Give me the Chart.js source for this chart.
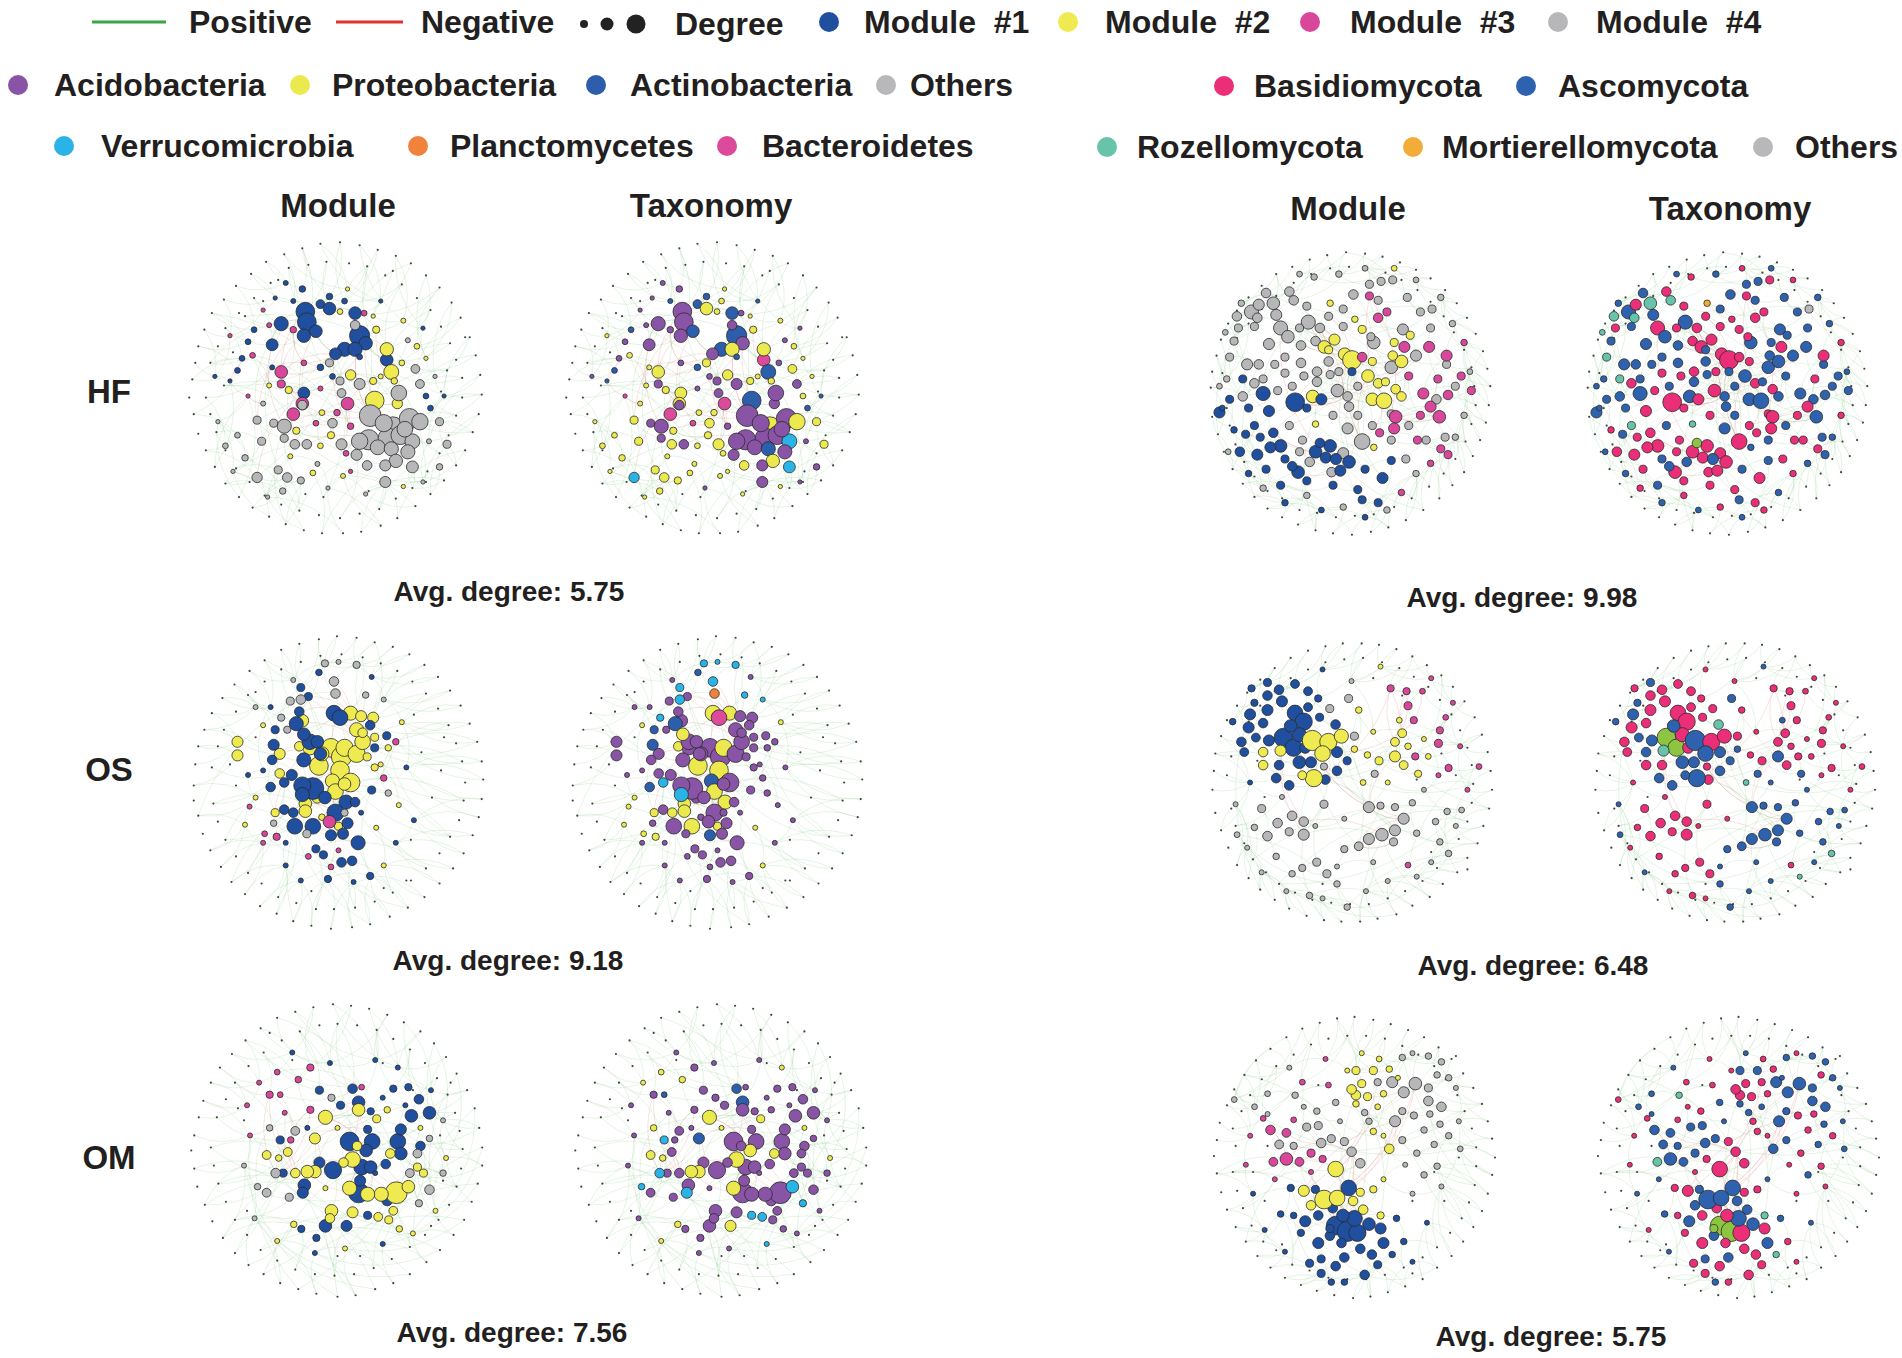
<!DOCTYPE html>
<html>
<head>
<meta charset="utf-8">
<script src="https://cdn.jsdelivr.net/npm/chart.js@4.4.0/dist/chart.umd.min.js"></script>
<style>
  body { margin: 0; background: #fff; font-family: "Liberation Sans", Arial, sans-serif; color: #231f20; }
  #page { position: relative; width: 1902px; height: 1358px; overflow: hidden; }
  .t { position: absolute; font-weight: bold; font-size: 32px; line-height: 1; white-space: pre; transform: translateY(-50%); }
  .c { transform: translate(-50%, -50%); }
  .dot { position: absolute; border-radius: 50%; transform: translate(-50%, -50%); }
  .ln { position: absolute; height: 3px; transform: translateY(-50%); }
  canvas { position: absolute; }
</style>
</head>
<body>
<div id="page"></div>
<script>
// ---- categories / labels ----
const sites = ['HF', 'OS', 'OM'];
const views = ['Module', 'Taxonomy'];
const moduleNames = ['Module  #1', 'Module  #2', 'Module  #3', 'Module  #4'];
const bacPhyla = ['Acidobacteria', 'Proteobacteria', 'Actinobacteria', 'Others', 'Verrucomicrobia', 'Planctomycetes', 'Bacteroidetes'];
const bacCodes = ['Ac', 'Pr', 'At', 'Ot', 'Ve', 'Pl', 'Ba'];
const fungPhyla = ['Basidiomycota', 'Ascomycota', 'Rozellomycota', 'Mortierellomycota', 'Others'];
const fungCodes = ['Bs', 'As', 'Rz', 'Mo', 'Ot'];
const bacAvgDegree = ['5.75', '9.18', '7.56'];
const fungAvgDegree = ['9.98', '6.48', '5.75'];

// ---- networks: nodes [x, y, degree, module, phylum] in layout units (circle radius 100) ----
const bacHF = [
  [-20,-51,22,1,'Ac'],[-19,-44,22,1,'Ac'],[-36,-43,16,1,'Ac'],[-21,-35,15,1,'Ac'],[-13,-38,14,1,'At'],[-10,-56,9,1,'At'],[-4,-53,14,1,'Pr'],[13,-50,14,1,'At'],[16,-35,24,1,'At'],[20,-30,15,1,'Ac'],
  [6,-26,16,1,'At'],[13,-26,16,1,'Pr'],[0,-23,13,1,'Ac'],[-42,-29,13,1,'Ac'],[34,-19,14,1,'Ba'],[-21,3,13,1,'Pr'],[-22,-66,6,1,'Ac'],[-4,-61,6,1,'At'],[6,-58,5,1,'Pr'],[-54,-39,5,1,'At'],
  [-62,-20,5,1,'Ac'],[-10,-14,6,1,'At'],[-2,-8,5,1,'Ac'],[63,13,5,1,'At'],[60,5,5,1,'Pr'],[-65,-12,5,1,'At'],[-58,-31,5,1,'Ac'],[-42,-14,4,1,'Pr'],[16,-21,5,1,'At'],[-33,-70,4,1,'Ac'],
  [37,-11,17,2,'At'],[26,8,22,2,'At'],[34,-26,15,2,'Pr'],[27,-39,7,2,'Pr'],[41,10,11,2,'Ac'],[10,-9,11,2,'Pr'],[25,-5,7,2,'Pr'],[-26,28,7,2,'Pr'],[-3,31,7,2,'Pr'],[-31,1,7,2,'Pr'],
  [-9,16,5,2,'Pr'],[39,-5,6,2,'Pr'],[44,-17,5,2,'Ac'],[54,-28,5,2,'Pr'],[-15,56,5,2,'Pr'],[3,-51,5,2,'Pr'],[-10,38,5,2,'Pr'],
  [-36,-11,14,3,'Pr'],[-22,10,14,3,'Pr'],[-28,17,14,3,'Ba'],[8,10,14,3,'Ba'],[10,25,6,3,'Ac'],[-36,-3,8,3,'Ac'],[-28,-39,6,3,'Ac'],[-21,-17,5,3,'Ac'],[-13,23,5,3,'Ba'],[1,16,6,3,'Pr'],
  [-55,-22,5,3,'Pr'],[7,43,5,3,'Pr'],[19,-50,5,3,'Ac'],[-44,-42,4,3,'Ac'],
  [23,18,26,4,'Ac'],[38,26,26,4,'Pr'],[49,20,24,4,'Ac'],[56,22,19,4,'Pr'],[22,34,24,4,'Ac'],[35,33,24,4,'Ac'],[43,31,22,4,'Ac'],[42,3,18,4,'Ac'],[16,35,19,4,'Ac'],[-34,25,16,4,'Ac'],
  [32,23,20,4,'Ac'],[51,35,17,4,'Ve'],[46,27,18,4,'Ac'],[28,39,17,4,'Ac'],[37,40,16,4,'At'],[48,42,16,4,'Ac'],[40,48,15,4,'Pr'],[51,52,13,4,'Ve'],[33,51,12,4,'Ac'],[14,44,12,4,'Ac'],
  [33,62,12,4,'Ac'],[21,51,10,4,'Pr'],[4,37,12,4,'Pr'],[-2,23,10,4,'Pr'],[-22,11,10,4,'Ac'],[16,-3,12,4,'Ac'],[56,-3,9,4,'Ac'],[53,-13,9,4,'Pr'],[69,22,8,4,'Pr'],[74,37,8,4,'Pr'],
  [69,52,6,4,'Ac'],[-52,59,11,4,'Ve'],[-32,59,10,4,'Pr'],[-38,54,8,4,'Pr'],[-27,37,10,4,'Pr'],[-19,37,10,4,'Ac'],[-41,23,8,4,'Ac'],[-49,35,8,4,'Pr'],[-52,21,8,4,'Pr'],[-34,33,8,4,'Ac'],
  [3,-5,8,4,'Ac'],[-4,-17,8,4,'Pr'],[13,-42,10,4,'Ac'],[4,3,9,4,'Ac'],[-23,61,7,4,'Pr'],[-35,68,6,4,'Pr'],[-60,46,6,4,'Pr'],[-65,31,5,4,'Pr'],[-73,38,5,4,'Pr']
];
const bacHFMinor = [
  [-70,-5,3,1,'At'],[-48,-52,3,3,'Ac'],[-28,-58,4,1,'At'],[8,-66,3,2,'Pr'],[30,-58,3,1,'At'],[45,-45,4,2,'Pr'],[58,-40,3,1,'Ac'],[66,-8,3,4,'Pr'],[62,35,4,4,'Ac'],[58,62,3,4,'Ac'],
  [45,65,3,2,'Pr'],[20,70,3,4,'Pr'],[5,58,4,2,'Pr'],[-5,66,3,4,'Ac'],[-45,72,3,4,'Pr'],[-68,55,3,4,'Pr'],[-78,22,3,4,'Pr'],[-80,-8,3,1,'Ac'],[-70,-35,3,3,'Pr'],[-44,-2,4,2,'Pr'],
  [-10,0,4,3,'Ac'],[30,-8,4,2,'Pr'],[-12,50,4,4,'Pr'],[-48,10,4,4,'Pr'],[25,-48,3,2,'Pr'],[-40,-60,3,1,'Ac'],[48,-32,4,4,'Ac'],[60,-20,3,2,'Pr'],[-30,45,4,2,'Pr'],[10,55,3,3,'Pr'],
  [-58,5,3,3,'Ba'],[72,5,3,1,'At']
];
const bacOS = [
  [-5,-23,22,2,'Ac'],[2,-17,24,2,'Ac'],[4,-23,20,2,'Pr'],[12,-19,20,2,'Ac'],[-13,-11,22,2,'Pr'],[1,-8,22,2,'Pr'],[8,0,22,2,'Ac'],[-4,-1,16,2,'At'],[-11,-19,16,2,'Ac'],[-19,-23,16,2,'Ac'],
  [16,-27,18,2,'Ac'],[12,-35,16,2,'Ac'],[8,-46,16,2,'Pr'],[15,-44,12,2,'Ac'],[23,-43,12,2,'Ac'],[-24,-41,14,2,'Ac'],[-26,-24,10,2,'Pr'],[-39,-19,12,2,'Ac'],[-39,-6,10,2,'Ac'],[-22,14,14,2,'Pr'],
  [-22,19,14,2,'Pr'],[-14,10,12,2,'Ac'],[-2,6,18,2,'Pr'],[4,1,14,2,'Ac'],[-67,-27,12,2,'Ac'],[-67,-18,12,2,'Ac'],[-42,20,8,2,'Pr'],[0,29,8,2,'Pr'],[-11,23,6,2,'Ac'],[16,-33,10,2,'Ac'],
  [24,-30,8,2,'Ac'],[33,-23,6,2,'Ac'],[19,-17,8,2,'Ac'],[24,-10,7,2,'Ac'],
  [-19,-27,18,1,'Ac'],[-14,-27,14,1,'Ac'],[-3,-46,18,1,'Pr'],[1,-43,18,1,'Ba'],[-28,-39,16,1,'At'],[-23,-32,14,1,'Pr'],[-12,-19,14,1,'Ac'],[-23,-15,16,1,'Ac'],[-17,4,26,1,'Ac'],[-24,2,20,1,'Ac'],
  [-24,8,16,1,'Ve'],[-9,10,14,1,'Ac'],[5,13,16,1,'Pr'],[11,13,10,1,'Ac'],[-2,20,20,1,'Ac'],[6,27,12,1,'Ac'],[-29,29,18,1,'Ac'],[-17,29,18,1,'Pr'],[-5,35,12,1,'At'],[3,34,12,1,'Ac'],
  [13,40,16,1,'Ac'],[-15,44,8,1,'Ac'],[-10,48,8,1,'Ac'],[2,53,10,1,'Ac'],[9,52,10,1,'Ac'],[-26,-47,10,1,'Ac'],[-20,-57,8,1,'Ac'],[-43,-25,12,1,'At'],[-44,-15,10,1,'Ac'],[-31,-5,12,1,'Ac'],
  [-36,0,10,1,'Ve'],[-45,3,10,1,'At'],[-36,18,10,1,'Ac'],[-30,20,10,1,'Pr'],[21,-38,10,1,'Ac'],[32,-31,8,1,'Ac'],[24,-23,8,1,'Ac'],[22,5,8,1,'Ac'],[21,62,7,1,'Ac'],[-7,64,7,1,'Ac'],
  [-42,-35,8,1,'At'],[-25,-63,8,1,'Ve'],[-13,-73,6,1,'At'],
  [-9,-79,7,4,'Ve'],[12,-78,7,4,'Ve'],[-3,-67,10,4,'Ve'],[-2,-59,10,4,'Pl'],[-25,-55,10,4,'Ve'],[-32,-54,8,4,'Ac'],[-38,-43,7,4,'Ve'],[-34,-35,7,4,'Ac'],[18,-58,6,4,'Ve'],[33,7,6,4,'Ac'],
  [-43,27,6,4,'Ac'],[-21,34,8,4,'Ac'],[4,20,7,4,'Ac'],
  [-6,26,14,3,'Ac'],[38,-27,6,3,'Ac'],[30,-3,6,3,'Ac'],[-41,36,7,3,'Pr'],[-49,34,5,3,'Pr'],[-20,49,5,3,'Ac'],[-5,56,5,3,'Ac'],[-59,16,4,3,'Pr']
];
const bacOSMinor = [
  [-55,-50,4,4,'Ac'],[-60,-5,4,1,'Ac'],[-55,10,4,2,'Pr'],[-50,40,4,3,'Ac'],[-35,55,4,1,'Ac'],[-25,65,4,1,'Ac'],[10,66,4,1,'Ac'],[30,55,4,2,'Pr'],[38,40,4,1,'Ac'],[40,15,4,2,'Ac'],
  [45,-10,4,1,'Ac'],[42,-40,4,2,'Pr'],[30,-55,4,4,'Ve'],[-45,-50,4,1,'Ac'],[-50,-38,4,2,'Pr'],[-30,-68,4,4,'Ac'],[0,-80,4,4,'Ve'],[22,-70,4,1,'Ac'],[-62,28,4,2,'Pr'],[50,25,4,1,'Ac'],
  [28,-12,4,2,'Ac'],[-50,-8,4,1,'Ac'],[15,20,4,1,'Ac'],[-35,40,4,1,'Ac'],[0,45,4,3,'Ac'],[25,30,4,2,'Pr']
];
const bacOM = [
  [8,-6,22,1,'Ac'],[23,-6,18,1,'Ac'],[40,-6,18,1,'Ac'],[42,2,14,1,'Ac'],[19,0,14,1,'Pr'],[16,11,18,1,'Ac'],[22,11,14,1,'Ac'],[-3,13,20,1,'Ac'],[-12,8,12,1,'Ac'],[14,28,24,1,'Ac'],
  [33,33,12,1,'Ac'],[15,20,12,1,'Ac'],[-22,23,14,1,'Ac'],[-23,28,12,1,'Ve'],[-8,50,14,1,'Ac'],[6,50,12,1,'Pr'],[14,-32,14,1,'At'],[10,-41,10,1,'At'],[49,-23,14,1,'Ac'],[61,-25,14,1,'Ac'],
  [54,-34,10,1,'Ac'],[42,-14,12,1,'Ac'],[32,9,10,1,'Ac'],[55,-3,10,1,'Ac'],[-38,-7,8,1,'Ve'],[-36,15,8,1,'Ac'],[-12,-40,8,1,'Ac'],[2,-30,8,1,'Ac'],[20,-14,8,1,'Ac'],[20,43,8,1,'Ve'],
  [-24,52,7,1,'Ac'],[-14,58,7,1,'Ac'],[47,-42,7,1,'Ac'],[37,-41,7,1,'Ac'],[22,-26,7,1,'Ac'],
  [39,28,26,2,'Ac'],[47,24,14,2,'Ve'],[29,29,16,2,'Ac'],[20,29,16,2,'Ac'],[8,25,16,2,'Pr'],[10,6,18,2,'Pr'],[13,-3,10,2,'Ac'],[4,8,10,2,'Ac'],[-8,-22,16,2,'Pr'],[14,-27,14,2,'Ac'],
  [-15,14,14,2,'Pr'],[-20,14,14,2,'Pr'],[-15,-8,12,2,'At'],[-28,15,10,2,'Ac'],[-33,1,9,2,'Ac'],[-47,3,9,2,'Pr'],[-4,40,14,2,'Ac'],[-5,45,10,2,'Ac'],[10,41,12,2,'Ac'],[27,44,9,2,'Ve'],
  [34,46,8,2,'Ac'],[37,40,9,2,'Ac'],[53,11,8,2,'Ac'],[57,15,8,2,'Ac'],[35,2,10,2,'Pr'],[26,-21,8,2,'Pr'],[33,-27,6,2,'Ac'],[-39,5,6,2,'Pr'],[41,52,6,2,'Ac'],[-29,49,6,2,'Pr'],
  [-45,-37,7,3,'Ac'],[-18,-55,7,3,'Ac'],[-26,-47,6,3,'Pr'],[-18,-27,7,3,'Ac'],[-31,-7,6,3,'Ac'],[-38,-37,5,3,'At'],[16,-42,5,3,'Ac'],[-40,-52,5,3,'Pr'],
  [-28,-13,9,4,'Ac'],[-41,15,10,4,'Ve'],[-47,28,9,4,'Ac'],[-32,31,8,4,'Ac'],[48,15,9,4,'Ac'],[61,26,10,4,'Ac'],[53,2,9,4,'Ac'],[54,35,7,4,'Ve'],[-4,-35,7,4,'Ac'],[70,15,6,4,'Ac'],
  [61,-8,6,4,'Ac'],[-45,-15,6,4,'Pr'],[-53,24,6,4,'Ve']
];
const bacOMMinor = [
  [-60,-30,4,3,'Ac'],[-52,-45,4,3,'Pr'],[-30,-65,4,1,'Ac'],[-5,-58,4,1,'Ac'],[25,-60,4,1,'Ac'],[40,-55,4,1,'Pr'],[62,-40,4,1,'Ac'],[70,-20,4,4,'Ac'],[72,5,4,2,'Pr'],[65,40,4,2,'Ac'],
  [50,55,4,2,'Ac'],[30,62,4,1,'Ve'],[5,65,4,2,'Ac'],[-15,68,4,1,'Ac'],[-40,60,4,2,'Pr'],[-55,45,4,4,'Ac'],[-62,10,4,4,'Ac'],[-58,-10,4,3,'Ac'],[-20,-15,4,1,'Ac'],[0,-15,4,2,'Pr'],
  [25,15,4,1,'Ac'],[-8,25,4,2,'Ac'],[30,-35,4,1,'Ac'],[-35,-25,4,3,'Ac'],[45,-30,4,1,'Ac'],[55,-15,4,2,'Pr']
];
const fungHF = [
  [-68,-56,16,4,'As'],[-78,-53,10,4,'Rz'],[-63,-61,12,4,'Bs'],[-53,-62,14,4,'Rz'],[-58,-69,10,4,'As'],[-42,-70,10,4,'Bs'],[-39,-64,10,4,'Rz'],[-51,-54,12,4,'As'],[-48,-45,16,4,'Bs'],[-56,-34,12,4,'As'],
  [-43,-39,14,4,'As'],[-34,-33,10,4,'As'],[-29,-49,16,4,'As'],[-21,-45,10,4,'Bs'],[-24,-36,10,4,'Bs'],[-64,-52,10,4,'Rz'],[-66,-46,8,4,'As'],[-77,-45,8,4,'Bs'],[-80,-36,8,4,'As'],[-71,-20,12,4,'As'],
  [-63,-20,10,4,'As'],[-83,-25,8,4,'Rz'],[-74,2,10,4,'As'],[-66,-7,10,4,'Bs'],[-52,-20,8,4,'As'],[-45,-14,8,4,'Bs'],[-34,-21,10,4,'As'],[-23,-15,10,4,'Bs'],[-15,-22,10,4,'As'],[-9,-2,14,4,'Bs'],
  [-2,2,10,4,'As'],[-23,-8,10,4,'As'],[-1,9,10,4,'As'],[-2,24,12,4,'As'],[8,33,18,4,'Bs'],[-5,41,12,4,'Bs'],[-13,54,10,4,'Bs'],[-28,47,10,4,'As'],[-35,40,8,4,'Bs'],[-33,32,8,4,'Bs'],
  [-42,22,8,4,'As'],[16,-35,14,4,'As'],[28,-18,14,4,'As'],[45,-26,12,4,'As'],[36,-44,12,4,'As'],[14,-39,8,4,'Bs'],[2,-68,10,4,'As'],[13,-75,8,4,'As'],[21,-77,8,4,'As'],[29,-78,8,4,'Bs'],
  [19,-64,8,4,'As'],[39,-66,8,4,'As'],[48,-56,8,4,'As'],[56,-58,8,4,'Ot'],[-5,-46,8,4,'Bs'],[-15,-53,8,4,'Bs'],[66,-20,8,4,'As'],[59,4,10,4,'As'],[72,-5,8,4,'As'],[28,14,8,4,'Bs'],
  [28,32,8,4,'As'],[52,32,8,4,'Bs'],[-32,-12,8,4,'Bs'],[-14,-13,8,4,'As'],
  [-18,-32,14,2,'Bs'],[-11,-37,12,2,'Bs'],[-4,-27,14,2,'Bs'],[1,-23,22,2,'Bs'],[12,-12,14,2,'As'],[15,4,14,2,'As'],[23,5,18,2,'As'],[31,-3,10,2,'Bs'],[35,2,10,2,'As'],[35,-22,14,2,'As'],
  [29,-26,10,2,'As'],[-26,2,14,2,'As'],[19,-7,10,2,'Bs'],[41,-40,8,2,'As'],[8,-44,8,2,'Bs'],[-14,-62,6,2,'Mo'],[3,-51,6,2,'Bs'],[-24,21,6,2,'Rz'],[16,37,6,2,'As'],
  [13,-67,8,3,'Bs'],[19,-52,10,3,'Bs'],[37,-32,12,3,'Bs'],[54,-32,12,3,'As'],[66,-26,12,3,'Bs'],[50,0,12,3,'As'],[55,9,12,3,'Bs'],[31,16,14,3,'Bs'],[61,16,14,3,'As'],[30,24,12,3,'Bs'],
  [67,1,10,3,'As'],[76,-12,8,3,'As'],[83,-2,8,3,'As'],[46,32,8,3,'Bs'],[62,38,8,3,'Bs'],[67,42,8,3,'As'],[20,27,8,3,'Bs'],[8,-25,10,3,'Bs'],
  [-38,6,22,1,'Bs'],[-60,0,16,1,'As'],[-90,13,12,1,'As'],[-83,4,8,1,'As'],[-74,-10,8,1,'Rz'],[-56,12,12,1,'Bs'],[-48,36,14,1,'Bs'],[-55,37,12,1,'Bs'],[-64,42,12,1,'Bs'],[-76,40,10,1,'Bs'],
  [-66,22,8,1,'Rz'],[-53,27,10,1,'Bs'],[-36,54,14,1,'Bs'],[-24,40,14,1,'Bs'],[-14,36,14,1,'Bs'],[-17,44,12,1,'Bs'],[-10,45,12,1,'As'],[-7,53,12,1,'Bs'],[-1,47,14,1,'Bs'],[-20,4,12,1,'Bs'],
  [1,-15,8,1,'As'],[22,58,12,1,'Bs'],[-21,34,10,1,'Gl'],[-40,50,10,1,'As'],[-72,28,8,1,'As'],[-58,52,8,1,'Bs'],[-48,63,8,1,'As'],[-12,63,8,1,'Bs'],[5,66,8,1,'Bs'],[8,73,8,1,'As'],
  [19,75,8,1,'Bs'],[28,46,8,1,'As']
];
const fungHFMinor = [
  [-85,-10,6,4,'As'],[-88,10,5,1,'As'],[-80,25,6,1,'Bs'],[-84,40,5,4,'As'],[-70,55,6,1,'As'],[-60,65,6,4,'Bs'],[-45,75,6,1,'As'],[-30,70,6,4,'Bs'],[-20,80,5,1,'As'],[-5,78,6,4,'Bs'],
  [10,85,5,1,'As'],[25,80,6,4,'Bs'],[35,68,6,3,'As'],[45,55,6,4,'Bs'],[55,48,6,3,'As'],[72,30,6,4,'As'],[78,15,6,4,'Bs'],[82,-15,5,4,'As'],[78,-35,6,3,'Bs'],[70,-48,6,4,'As'],
  [62,-66,6,4,'As'],[45,-78,5,4,'Bs'],[30,-86,5,2,'As'],[10,-86,5,4,'Bs'],[-8,-82,6,4,'As'],[-25,-80,6,4,'Bs'],[-35,-82,5,4,'As'],[-75,-62,6,4,'As'],[-86,-42,5,4,'Rz'],[-90,-5,5,4,'As'],
  [-40,-5,8,4,'As'],[-30,10,8,1,'Bs'],[-12,15,8,4,'Bs'],[5,15,8,4,'As'],[15,-22,8,2,'Bs'],[24,-8,8,2,'As'],[40,-12,8,3,'As'],[48,15,8,3,'Bs'],[40,22,8,4,'As'],[15,22,8,4,'Bs'],
  [5,-5,8,4,'As'],[-8,-15,8,4,'Bs'],[-15,-30,8,2,'As'],[-35,-45,8,4,'Bs'],[-60,-10,8,4,'As'],[-45,-25,8,4,'As'],[-30,-60,8,4,'Bs'],[-5,-58,8,4,'As'],[25,-56,8,3,'Bs'],[30,-35,8,2,'As'],
  [55,-45,8,4,'As'],[60,-10,8,3,'Bs'],[65,30,8,4,'As'],[38,45,8,4,'Bs'],[10,52,8,1,'As'],[-30,60,8,1,'Bs'],[-45,45,8,1,'As'],[-62,30,8,1,'Bs'],[-70,10,8,1,'As'],[-50,-2,8,4,'Bs']
];
const fungOS = [
  [-47,-31,22,1,'Gl'],[-39,-48,18,1,'Bs'],[-33,-42,20,1,'Bs'],[-40,-24,20,1,'Gl'],[-36,-33,16,1,'Bs'],[-42,-39,14,1,'As'],[-48,-56,12,1,'Bs'],[-58,-50,12,1,'Bs'],[-70,-47,12,1,'As'],[-61,-41,10,1,'Bs'],
  [-71,-38,12,1,'Bs'],[-57,-29,12,1,'As'],[-66,-31,9,1,'As'],[-76,-28,10,1,'Bs'],[-74,-21,9,1,'Bs'],[-58,-60,10,1,'Bs'],[-50,-64,10,1,'Bs'],[-39,-68,9,1,'Bs'],[-30,-63,9,1,'Bs'],[-30,-52,9,1,'Bs'],
  [-23,-58,7,1,'Bs'],[-32,-24,12,1,'Bs'],[-36,-14,14,1,'As'],[-28,-14,12,1,'As'],[-50,-12,10,1,'Bs'],[-52,-3,10,1,'As'],[-43,2,10,1,'As'],[-18,-2,10,1,'Bs'],[-10,-8,10,1,'As'],[-10,-21,12,1,'As'],
  [-3,-15,8,1,'As'],[-22,-45,8,1,'Bs'],[-11,-40,10,1,'Rz'],[-58,-69,8,1,'As'],[-69,-65,7,1,'Bs'],[-67,-55,7,1,'As'],[-82,-42,6,1,'As'],
  [-27,-29,24,2,'As'],[-16,-28,20,2,'Bs'],[-20,-20,18,2,'As'],[-7,-32,16,2,'Bs'],[-26,-3,20,2,'As'],[-49,-22,12,2,'Rz'],[-61,-21,10,2,'As'],[-61,-12,10,2,'Bs'],[-34,-5,9,2,'As'],[30,-18,12,2,'As'],
  [30,-28,9,2,'Bs'],[35,-34,9,2,'Bs'],[36,-12,9,2,'Bs'],[19,-15,8,2,'Bs'],[46,-6,7,2,'As'],[39,-25,6,2,'Bs'],[11,-19,6,2,'Bs'],[2,-23,6,2,'As'],[5,-50,6,2,'Bs'],[8,0,5,2,'Rz'],
  [33,-43,5,2,'As'],[53,-18,5,2,'Bs'],
  [12,17,12,4,'As'],[36,25,12,4,'As'],[30,33,12,4,'As'],[21,36,14,4,'As'],[12,39,12,4,'As'],[5,44,9,4,'As'],[-2,-58,8,4,'As'],[-15,-51,8,4,'Bs'],[2,-32,8,4,'Bs'],[-19,-11,7,4,'Bs'],
  [16,-6,7,4,'As'],[29,41,8,4,'As'],[-33,36,12,4,'Bs'],[-33,27,10,4,'Bs'],[-41,23,10,4,'Bs'],[-51,28,10,4,'Bs'],[-58,37,10,4,'Bs'],[-62,18,8,4,'Bs'],[-43,34,8,4,'Bs'],[-19,15,8,4,'Bs'],
  [-24,55,8,4,'Bs'],[-34,59,7,4,'Bs'],[-17,63,8,4,'Bs'],[-5,46,7,4,'As'],[20,16,7,4,'As'],[30,17,7,4,'As'],[42,14,6,4,'As'],[45,35,6,4,'As'],[61,41,6,4,'As'],[67,49,6,4,'Rz'],
  [58,27,6,4,'As'],[66,20,6,4,'As'],[76,19,5,4,'As'],[-41,63,6,4,'Bs'],[-52,51,6,4,'Bs'],[-67,31,6,4,'Bs'],[-79,36,5,4,'As'],[-10,70,6,4,'As'],[-3,86,6,4,'As'],[-29,78,6,4,'Bs'],
  [27,-65,7,3,'Bs'],[38,-63,7,3,'Bs'],[49,-63,5,3,'Bs'],[39,-53,8,3,'Bs'],[43,-43,7,3,'Bs'],[61,-36,7,3,'Bs'],[65,-45,5,3,'Bs'],[60,-27,8,3,'Bs'],[44,-18,7,3,'Bs'],[67,-10,7,3,'Bs'],
  [88,-11,5,3,'Bs'],[39,57,5,3,'Bs']
];
const fungOSMinor = [
  [-20,80,4,4,'Bs'],[-45,75,4,4,'Bs'],[-62,62,4,4,'As'],[-72,45,4,4,'Bs'],[-80,15,4,4,'As'],[-70,0,4,1,'Bs'],[10,75,4,4,'As'],[25,68,4,4,'As'],[45,65,4,4,'Rz'],[55,55,4,4,'As'],
  [72,30,4,4,'As'],[80,5,4,3,'Bs'],[75,-25,4,3,'Bs'],[70,-55,4,3,'Bs'],[55,-72,4,3,'Bs'],[20,-80,4,2,'As'],[0,-70,4,4,'Bs'],[-20,-78,4,1,'Bs'],[15,-35,4,2,'Bs'],[25,0,4,2,'As'],
  [50,5,4,4,'As'],[-5,25,4,4,'Bs'],[-25,30,4,4,'Bs'],[-10,58,4,4,'As'],[15,55,4,4,'As'],[60,-5,4,3,'Bs'],[-48,10,4,4,'Bs'],[50,-30,4,2,'Bs']
];
const fungOM = [
  [-13,47,22,1,'Gl'],[-5,51,24,1,'Gl'],[2,52,20,1,'Bs'],[0,42,18,1,'As'],[-8,40,14,1,'Bs'],[-4,21,18,1,'As'],[10,46,14,1,'As'],[18,49,12,1,'Bs'],[20,59,12,1,'As'],[12,67,10,1,'Bs'],
  [4,63,10,1,'Bs'],[-7,69,10,1,'As'],[-13,75,10,1,'Bs'],[-23,80,8,1,'Bs'],[-31,73,8,1,'Bs'],[-23,70,8,1,'As'],[-25,59,12,1,'Bs'],[-17,54,10,1,'As'],[-9,59,10,1,'Bs'],[-34,44,12,1,'As'],
  [-25,40,10,1,'Bs'],[-17,49,8,1,'Gl'],[-15,35,10,1,'Bs'],[-27,22,8,1,'As'],[-44,21,7,1,'Bs'],[7,81,10,1,'Bs'],[16,74,8,1,'Bs'],[26,67,6,1,'Rz'],[34,58,6,1,'Bs'],[29,42,6,1,'As'],
  [-37,52,7,1,'Bs'],[-51,39,6,1,'As'],[-42,40,6,1,'Bs'],[-16,86,6,1,'As'],[-7,86,6,1,'Bs'],
  [-21,29,22,2,'As'],[-12,28,18,2,'As'],[-35,23,12,2,'Bs'],[-30,33,10,2,'As'],[-1,30,10,2,'As'],[6,36,10,2,'As'],[4,24,8,2,'Bs'],[13,22,7,2,'Bs'],[-13,8,18,2,'Bs'],[18,40,7,2,'Rz'],
  [1,-43,10,2,'Bs'],[9,-42,8,2,'Bs'],[-2,-47,10,2,'Bs'],[5,-51,8,2,'Bs'],[1,-60,8,2,'As'],[13,-60,8,2,'As'],[24,-61,6,2,'Bs'],[17,-68,5,2,'Bs'],[24,-6,10,2,'As'],[1,-37,6,2,'As'],
  [13,-18,6,2,'Bs'],[20,-44,6,2,'Bs'],[16,-35,5,2,'As'],
  [42,-51,14,4,'As'],[34,-45,12,4,'As'],[26,-52,12,4,'As'],[51,-48,8,4,'As'],[51,-39,10,4,'As'],[60,-35,10,4,'As'],[28,-25,12,4,'As'],[16,-52,7,4,'Bs'],[33,-69,6,4,'As'],[51,-70,6,4,'As'],
  [60,-66,6,4,'As'],[57,-57,6,4,'Bs'],[65,-55,6,4,'As'],[-2,-4,10,4,'Bs'],[4,4,10,4,'Bs'],[-23,-10,10,4,'As'],[-33,-21,8,4,'As'],[-25,-22,8,4,'As'],[-42,-8,7,4,'As'],[-52,-9,9,4,'As'],
  [-16,-13,8,4,'As'],[-7,-11,8,4,'Bs'],[10,-25,6,4,'Bs'],[7,-31,6,4,'As'],[41,-29,7,4,'Bs'],[33,-32,7,4,'As'],[52,-30,6,4,'Bs'],[59,-23,6,4,'As'],[48,-19,6,4,'Bs'],[33,-12,7,4,'As'],
  [43,-3,6,4,'Bs'],[55,-9,6,4,'As'],[65,-15,6,4,'Bs'],[57,6,6,4,'Bs'],[48,12,6,4,'As'],[-13,-38,6,4,'As'],[-26,-32,6,4,'Bs'],[-41,-43,6,4,'Rz'],[-60,-44,5,4,'As'],[-69,-35,5,4,'As'],
  [-83,-40,5,4,'Bs'],[73,-6,5,4,'As'],
  [-47,1,14,3,'As'],[-58,-19,10,3,'As'],[-47,-17,9,3,'As'],[-56,3,9,3,'Rz'],[-38,3,9,3,'As'],[-30,-3,8,3,'As'],[-22,1,7,3,'Bs'],[-42,-26,5,3,'Bs'],[-36,-52,5,3,'Bs'],[-18,-50,5,3,'Bs'],
  [-63,-27,5,3,'Bs']
];
const fungOMMinor = [
  [-60,-30,4,4,'As'],[-72,-15,4,3,'Bs'],[-75,5,4,3,'Bs'],[-70,25,4,1,'As'],[-62,50,4,1,'Bs'],[-48,65,4,1,'As'],[40,72,4,1,'Bs'],[50,45,4,1,'As'],[60,20,4,4,'Bs'],[72,-25,4,4,'As'],
  [70,-48,4,4,'As'],[40,-72,4,4,'Bs'],[5,-72,4,2,'As'],[-20,-68,4,3,'Bs'],[-45,-62,4,4,'As'],[-35,-35,4,4,'Bs'],[-10,-25,4,4,'As'],[20,-15,4,2,'Bs'],[35,5,4,4,'Bs'],[20,15,4,2,'As'],
  [-30,10,4,3,'Bs'],[-55,15,4,3,'As'],[40,25,4,4,'Bs'],[30,-55,4,2,'As'],[-5,-60,4,2,'Bs']
];

// ---- degree-1 peripheral nodes [x, y] ----
const bacHFLeaves = [[-95,-6],[-91,-28],[-82,-50],[-66,-68],[-46,-84],[-22,-93],[3,-97],[28,-92],[50,-83],[69,-67],[83,-47],[93,-22],[97,4],[91,29],[80,51],[63,70],[41,86],[17,95],[-9,96],[-33,90],[-55,79],[-73,63],[-86,41],[-94,17],
  [-83,-17],[-73,-40],[-54,-60],[-31,-80],[-6,-84],[21,-81],[44,-69],[63,-52],[76,-30],[84,-7],[80,18],[69,43],[51,66],[29,80],[3,86],[-24,81],[-47,71],[-66,53],[-79,29],[-86,6],
  [-74,-2],[74,-12],[-8,72],[60,62],[-60,-48],[38,-78],[-38,-72],[86,-34]];
const bacHFLeaves2 = [[-93,-17],[-87,-39],[-74,-59],[-56,-76],[-34,-89],[-10,-96],[16,-95],[40,-88],[60,-75],[77,-57],[89,-34],[96,-9],[95,17],[86,41],[72,61],[53,78],[30,91],[5,96],[-21,94],[-44,85],[-64,72],[-80,52],[-91,30],[-97,6],
  [-78,-28],[-64,-50],[-43,-70],[-18,-82],[9,-83],[33,-75],[54,-60],[70,-41],[80,-19],[84,6],[75,31],[61,55],[40,73],[16,83],[-11,84],[-36,77],[-57,62],[-73,41],[-83,17],
  [-68,-24],[70,2],[-20,70],[22,68],[-48,-58]];
const bacOSLeaves = [[-96,2],[-93,-24],[-84,-46],[-69,-65],[-49,-81],[-26,-92],[-1,-97],[24,-93],[47,-85],[66,-70],[81,-51],[92,-27],[96,-2],[93,23],[83,47],[67,67],[46,83],[21,94],[-5,97],[-30,92],[-52,82],[-71,66],[-85,45],[-93,22],
  [-84,-10],[-76,-35],[-60,-58],[-38,-75],[-12,-84],[16,-83],[39,-74],[58,-59],[73,-38],[82,-14],[83,12],[74,36],[58,57],[36,73],[11,83],[-15,84],[-40,76],[-60,60],[-75,38],[-83,14],
  [55,-20],[62,10],[48,38],[-68,2],[50,-45],[70,-30],[45,65],[-55,-30]];
const bacOSLeaves2 = [[-95,-12],[-89,-35],[-77,-56],[-59,-74],[-38,-88],[-13,-95],[12,-96],[36,-90],[57,-78],[74,-61],[87,-39],[95,-14],[95,11],[89,35],[76,57],[57,76],[34,89],[9,96],[-18,95],[-41,87],[-62,74],[-78,56],[-90,34],[-96,12],
  [-80,-24],[-68,-47],[-49,-67],[-25,-80],[2,-85],[28,-79],[49,-67],[66,-49],[78,-26],[84,0],[80,25],[67,47],[48,65],[24,79],[-3,84],[-28,80],[-51,67],[-68,49],[-80,26],
  [-72,-12],[68,-8],[-18,72],[30,70],[-55,-60]];
const bacOMLeaves = [[-95,-10],[-89,-33],[-78,-55],[-61,-73],[-40,-88],[-16,-95],[9,-96],[33,-90],[55,-79],[72,-62],[86,-40],[94,-15],[96,10],[89,34],[77,56],[59,74],[37,88],[12,96],[-14,95],[-38,88],[-59,76],[-76,58],[-88,36],[-95,12],
  [-80,-22],[-68,-45],[-49,-65],[-25,-79],[0,-84],[26,-80],[48,-67],[66,-48],[78,-25],[83,-1],[79,24],[67,46],[48,64],[24,78],[-2,83],[-28,79],[-51,66],[-68,46],[-79,22],[-84,-2],
  [-62,-20],[68,-10],[-30,-60],[30,-58],[-60,40],[62,50],[0,70],[75,-45]];
const bacOMLeaves2 = [[-92,-22],[-84,-45],[-70,-64],[-51,-81],[-28,-92],[-3,-97],[21,-94],[44,-85],[64,-71],[79,-51],[91,-28],[96,-2],[93,22],[84,46],[68,66],[48,82],[25,92],[0,97],[-26,92],[-49,82],[-68,68],[-83,47],[-93,24],[-97,0],
  [-74,-34],[-59,-56],[-37,-73],[-12,-83],[13,-83],[37,-74],[58,-58],[73,-37],[81,-13],[82,12],[74,36],[58,56],[36,72],[11,82],[-15,82],[-40,73],[-60,56],[-74,34],[-82,10],
  [-66,-28],[70,20],[-45,-78],[15,70],[50,-40]];
const fungHFLeaves = [[-96,-4],[-92,-26],[-84,-48],[-70,-66],[-51,-82],[-28,-92],[-3,-97],[22,-94],[45,-85],[65,-71],[80,-52],[91,-29],[96,-5],[93,20],[84,43],[70,63],[50,80],[26,92],[1,97],[-24,94],[-47,85],[-66,71],[-81,52],[-91,28],
  [-88,-14],[-78,-38],[-61,-58],[-39,-76],[-14,-86],[11,-86],[35,-78],[55,-63],[71,-42],[83,-18],[86,8],[79,33],[64,55],[42,72],[16,83],[-10,85],[-35,80],[-57,67],[-73,47],[-83,22]];
const fungHFLeaves2 = [[-95,-15],[-89,-37],[-78,-57],[-61,-74],[-40,-87],[-16,-95],[10,-96],[34,-90],[55,-79],[73,-62],[86,-41],[94,-17],[95,8],[89,32],[78,54],[61,72],[38,87],[14,95],[-12,96],[-36,90],[-57,79],[-74,62],[-87,40],[-95,16],
  [-84,-26],[-70,-48],[-51,-67],[-27,-82],[-1,-87],[24,-83],[46,-71],[64,-53],[78,-30],[85,-5],[83,21],[72,45],[54,64],[30,78],[3,84],[-23,82],[-47,72],[-66,57],[-79,35],[-85,10]];
const fungOSLeaves = [[-96,5],[-94,-20],[-86,-43],[-72,-62],[-53,-79],[-30,-91],[-6,-96],[19,-95],[42,-87],[62,-74],[78,-56],[90,-33],[96,-8],[95,18],[87,42],[73,62],[54,79],[31,91],[6,96],[-19,95],[-43,87],[-63,74],[-79,57],[-90,33],
  [-86,-5],[-78,-30],[-63,-53],[-42,-72],[-18,-83],[8,-86],[33,-79],[53,-66],[69,-47],[80,-24],[84,1],[80,27],[68,50],[49,68],[25,80],[-1,84],[-27,81],[-50,70],[-68,53],[-80,30],
  [72,-5],[15,-72],[45,-2],[-60,10],[55,48],[-20,70],[80,60],[0,-70]];
const fungOSLeaves2 = [[-95,-8],[-90,-32],[-79,-53],[-63,-71],[-42,-86],[-18,-94],[7,-96],[31,-92],[52,-81],[70,-66],[85,-45],[94,-21],[97,5],[91,30],[80,52],[63,70],[42,85],[18,94],[-7,96],[-31,92],[-53,81],[-71,66],[-85,45],[-94,21],
  [-83,-18],[-71,-42],[-53,-63],[-30,-78],[-5,-85],[21,-83],[43,-73],[61,-57],[75,-36],[83,-12],[83,14],[74,39],[59,59],[37,75],[12,84],[-14,83],[-39,76],[-59,62],[-74,42],[-83,18],
  [-65,-15],[35,-60],[62,-20],[-35,60]];
const fungOMLeaves = [[-95,-12],[-88,-36],[-76,-57],[-58,-75],[-36,-89],[-12,-96],[13,-95],[37,-88],[58,-76],[75,-58],[88,-37],[95,-13],[95,12],[88,37],[75,58],[57,76],[35,89],[11,96],[-14,95],[-37,88],[-58,76],[-75,58],[-88,36],[-95,11],
  [-84,-20],[-72,-43],[-54,-63],[-30,-78],[-5,-84],[21,-82],[44,-71],[63,-54],[76,-32],[84,-7],[83,19],[74,42],[57,62],[34,76],[8,84],[-18,83],[-43,74],[-63,58],[-77,35],[-84,10],
  [-70,10],[72,0],[40,30],[-60,-8],[62,30],[-50,60],[40,80],[70,-70]];
const fungOMLeaves2 = [[-93,-24],[-83,-47],[-68,-67],[-47,-83],[-24,-93],[0,-97],[25,-92],[48,-83],[67,-68],[82,-48],[92,-25],[97,0],[92,25],[82,48],[67,68],[47,84],[23,93],[-1,97],[-26,92],[-48,83],[-67,68],[-82,48],[-92,24],[-97,-1],
  [-78,-32],[-64,-54],[-42,-71],[-18,-82],[8,-84],[33,-77],[55,-63],[71,-43],[81,-20],[84,6],[79,31],[66,52],[47,69],[21,81],[-5,84],[-31,78],[-54,64],[-71,47],[-81,23],
  [-82,-8],[20,-45],[-25,-50],[55,10],[-62,30]];

// ---- single edges [i, j, sign]; negative index = peripheral node (-1 is the first one) ----
const bacHFEdges = [[0,1],[0,3],[1,2],[1,4],[0,6],[8,9],[8,10],[8,11],[10,12],[9,14],[2,13],[4,12],[7,8],[6,7],[0,17],[30,31],[31,34],[30,32],[35,36],[31,40],[37,38],
  [8,61,-1],[31,62,-1],[0,47,-1],[12,51,-1],[48,70,-1],[1,99,-1],[30,50,-1],[15,92,-1],[13,70,-1],[4,85,-1],[33,68,-1],[61,-3],[8,-10],[31,-14],[70,-20],[2,-25],[96,-22],[92,-30],[13,-40],[62,-16],[49,-45],[64,-13],[3,-6]];
const bacOSEdges = [[2,42,-1],[5,48,-1],[0,34,-1],[8,36,-1],[22,50,-1],[12,79,-1],[6,90,-1],[5,40,-1],[10,38,-1],[20,54,-1],[12,80,-1],[9,87,-1],[90,44,-1],
  [3,-5],[10,-12],[42,-20],[50,-18],[19,-22],[55,-17],[31,-36],[14,-8],[60,-24]];
const bacOMEdges = [[0,35,-1],[9,35,-1],[7,44,-1],[13,46,-1],[16,43,-1],[65,12,-1],[74,47,-1],[4,43,-1],[11,38,-1],[22,36,-1],[8,47,-1],
  [2,-12],[19,-11],[14,-18],[35,-16],[46,-22],[12,-23],[67,-4],[77,-13],[3,-35],[40,-28]];
const fungHFEdges = [[67,34,-1],[66,12,-1],[70,90,-1],[67,86,-1],[68,43,-1],[101,30,-1],[112,35,-1],[90,58,-1],[8,66,-1],[67,101,-1],[66,90,-1],[34,120,-1],[29,86,-1],[12,68,-1],[8,116,-1],
  [0,-24],[20,-22],[101,-23],[35,-18],[86,-13],[90,-12],[44,-10],[49,-7],[120,-20],[115,-17],[58,-14],[3,-5],[22,-1],[110,-42],[95,-36]];
const fungOSEdges = [[0,71,-1],[37,59,-1],[3,41,-1],[46,59,-1],[29,103,-1],[37,60,-1],[0,72,-1],[2,45,-1],[41,99,-1],
  [41,-2],[8,-22],[59,-15],[62,-17],[71,-20],[46,-12],[99,-9],[47,-11],[65,-14],[90,-16],[85,-19],[34,-5],[28,-35],[63,-39],[98,-18],[107,-10]];
const fungOMEdges = [[43,71,-1],[0,43,-1],[35,100,-1],[45,58,-1],[5,71,-1],[102,73,-1],[53,64,-1],[0,71,-1],[43,100,-1],[5,58,-1],[35,64,-1],
  [1,-17],[9,-18],[13,-20],[25,-16],[58,-9],[61,-11],[45,-6],[71,-3],[100,-24],[104,-22],[66,-13],[76,-33],[84,-35],[3,-44]];

// ---- positive edge paths (each consecutive pair is one edge) ----
const bacHFPaths = [
  [-1,25,-2,26,-3,19,-4,29,-5,16,-6,17,-7,18,-8,59,-9,7,-10,43,-11,88,-12,87,-13,23,-14,89,-15,90,-16,91,-17,81,-18,79,-19,44,-20,105,-21,106,-22,92,-23,108,-24,20,-1],
  [-25,20,-26,13,-27,53,-28,0,-29,6,-30,18,-31,32,-32,14,-33,30,-34,87,-35,63,-36,72,-37,78,-38,81,-39,80,-40,93,-41,94,-42,98,-43,109,-44,27,-25],
  [61,62,63,64,67,66,65,69,74,75,76,77,79,82,80,83,65,61,71,73,72,76],
  [0,1,2,13,3,4,12,10,8,9,14,30,32,33,7,6,5,17,18,45],
  [31,34,36,35,41,39,37,38,40,46],[47,48,49,50,51,52,53,54,55,56,57,58,59,60],
  [70,85,84,104,101,102,86,68,87,88],[92,93,94,95,96,97,98,99,100,105,106,107,108,109],
  [1,61,-45,8,64,-46,31,72,-47,12,70,-48,9,88,-49,2,99,-50],
  [110,127,128,111,135,112,113,114,134,115,116,137,117,141,118,119,120,121,122,123,132,138,124,125,126,140,133,129,130,131,136],
  [-53,127,-54,128,-55,135,-56,112,-57,113,-58,114,-59,115,-60,116,-61,137,-62,117,-63,141,-64,118,-65,119,-66,120,-67,121,-68,122,-69,123,-70,124,-71,125,-72,126,-73,140,-74,110]
];
const bacOSPaths = [
  [-1,25,-2,24,-3,98,-4,111,-5,113,-6,75,-7,77,-8,78,-9,115,-10,110,-11,109,-12,91,-13,108,-14,117,-15,106,-16,105,-17,72,-18,104,-19,73,-20,103,-21,102,-22,101,-23,116,-24,100,-1],
  [-25,18,-26,17,-27,15,-28,59,-29,12,-30,13,-31,14,-32,68,-33,10,-34,3,-35,6,-36,23,-37,54,-38,58,-39,57,-40,55,-41,50,-42,64,-43,19,-44,18],
  [0,1,2,3,10,11,12,13,14,29,30,31,32,33,5,6,7,22,23,4,8,9,15,16,17,18],
  [34,35,40,41,42,43,44,45,46,47,48,49,50,51,52,53,54,55,56,57,58],
  [59,60,71,72,73,75,74,38,39,36,37,69,70,67,68],[77,78,79,80,81,82,83,84,85,86,87,88,89],[90,91,92,93,94,95,96,97],
  [0,34,1,42,2,36,6,46,22,48,19,50,21,62,26,64,27,49,7,45],
  [98,111,112,119,99,100,116,101,121,102,103,122,104,105,123,106,117,107,118,108,109,110,115,114,113],
  [-53,24,-54,98,-55,111,-56,113,-57,75,-58,77,-59,78,-60,115,-61,110,-62,109,-63,91,-64,108,-65,117,-66,106,-67,105,-68,72,-69,104,-70,73,-71,103,-72,102,-73,101,-74,116]
];
const bacOMPaths = [
  [-1,103,-2,86,-3,87,-4,71,-5,88,-6,66,-7,89,-8,90,-9,91,-10,92,-11,19,-12,93,-13,94,-14,95,-15,96,-16,97,-17,98,-18,99,-19,100,-20,101,-21,64,-22,102,-23,25,-24,102],
  [-25,24,-26,65,-27,26,-28,17,-29,16,-30,33,-31,20,-32,18,-33,21,-34,23,-35,57,-36,10,-37,56,-38,15,-39,14,-40,30,-41,64,-42,12,-43,49,-44,48],
  [0,1,2,3,4,5,6,7,8,9,10,11,0,28,21,18,19,20,32,33,34,16,17,27,26],
  [35,36,37,38,39,40,41,42,43,44,45,46,47,48,49,50,51,52,53,54,55,56,57,58,59,60,61,62,63,64],
  [65,66,67,68,69,70,71,72],[73,74,75,76,77,78,79,80,81,82,83,84,85],
  [0,40,1,41,5,39,9,35,10,54,14,51,7,45,12,46,3,59,2,58,23,57],
  [86,87,88,89,90,91,92,93,94,95,96,97,98,99,100,101,102,103,109,104,105,108,110,111,106,107],
  [-53,86,-54,87,-55,88,-56,89,-57,90,-58,91,-59,92,-60,93,-61,94,-62,95,-63,96,-64,97,-65,98,-66,99,-67,100,-68,101,-69,102,-70,103,-71,111,-72,110,-73,109]
];
const fungHFPaths = [
  [-1,162,-2,22,-3,161,-4,160,-5,6,-6,159,-7,157,-8,156,-9,155,-10,153,-11,152,-12,151,-13,150,-14,149,-15,148,-16,147,-17,145,-18,143,-19,141,-20,140,-21,139,-22,138,-23,136,-24,134,-1],
  [-25,133,-26,17,-27,1,-28,5,-29,47,-30,48,-31,52,-32,53,-33,56,-34,58,-35,57,-36,97,-37,98,-38,146,-39,125,-40,127,-41,113,-42,126,-43,109,-44,104],
  [0,1,2,3,4,5,6,7,8,9,10,11,12,13,14,15,16,17,18,19,20,21,22,23,24,25,26,27,28,29,30,31,32,33,34,35,36,37,38,39,40,41],
  [41,42,43,44,45,46,47,48,49,50,51,52,53,54,55,56,57,58,59,60,61,62,63],
  [64,65,66,67,68,69,70,71,72,73,74,75,76,77,78,79,80,81,82],[83,84,85,86,87,88,89,90,91,92,93,94,95,96,97,98,99,100],
  [101,102,103,104,105,106,107,108,109,110,111,112,113,114,115,116,117,118,119,120,121,122,123,124,125,126,127,128,129,130,131,132],
  [163,164,165,166,167,168,169,170,171,172,173,174,175,176,177,178,179,180,181,182,183,184,185,186,187,188,189,190,191,192],
  [67,8,66,29,70,101,67,34,65,12,66,42,69,90,68,91,64,13,67,119,66,30,70,59,4,67],
  [-45,162,-46,161,-47,160,-48,4,-49,159,-50,157,-51,156,-52,155,-53,154,-54,153,-55,152,-56,151,-57,150,-58,149,-59,148,-60,147,-61,146,-62,144,-63,142,-64,141,-65,140,-66,139,-67,138,-68,137],
  [-69,133,-70,18,-71,160,-72,6,-73,158,-74,156,-75,154,-76,153,-77,151,-78,150,-79,149,-80,148,-81,146,-82,145,-83,143,-84,141,-85,139,-86,137,-87,135,-88,134]
];
const fungOSPaths = [
  [-1,116,-2,14,-3,36,-4,34,-5,33,-6,17,-7,128,-8,126,-9,125,-10,124,-11,106,-12,123,-13,122,-14,121,-15,120,-16,119,-17,118,-18,117,-19,111,-20,112,-21,113,-22,114,-23,115,-24,116],
  [-25,25,-26,13,-27,7,-28,16,-29,20,-30,127,-31,99,-32,101,-33,104,-34,106,-35,131,-36,89,-37,97,-38,88,-39,98,-40,95,-41,92,-42,91,-43,94,-44,137],
  [0,1,2,3,4,5,6,7,8,9,10,11,12,13,14,15,16,17,18,19,20,21,22,23,24,25,26,27,28,29,30,31,32,33,34,35,36],
  [37,38,39,40,41,42,43,44,45,46,47,48,49,50,51,52,53,54,55,56,57,58],
  [59,60,61,62,63,64,70,71,72,73,74,75,76,77,78,79,80,81,82,83,84,85,86,87,88,89,90,91,92,93,94,95,96,97,98],
  [99,100,101,102,103,104,105,106,107,108,109,110],
  [111,112,113,114,115,116,137,133,132,130,131,136,138,129,127,126,125,124,123,122,121,120,119,118,117,135,134],
  [0,37,3,38,2,39,4,41,37,64,40,61,41,71,38,59,45,47,59,86],
  [-53,116,-54,13,-55,35,-56,34,-57,16,-58,128,-59,127,-60,126,-61,125,-62,124,-63,123,-64,122,-65,121,-66,120,-67,119,-68,118,-69,117,-70,111,-71,112,-72,113,-73,114,-74,115]
];
const fungOMPaths = [
  [-1,112,-2,97,-3,125,-4,98,-5,124,-6,123,-7,49,-8,66,-9,70,-10,121,-11,120,-12,99,-13,91,-14,119,-15,118,-16,117,-17,26,-18,25,-19,33,-20,13,-21,116,-22,115,-23,114,-24,113],
  [-25,111,-26,96,-27,110,-28,108,-29,50,-30,52,-31,58,-32,62,-33,85,-34,88,-35,92,-36,119,-37,28,-38,27,-39,34,-40,30,-41,31,-42,24,-43,132,-44,100],
  [0,1,2,3,4,5,6,7,8,9,10,11,12,13,14,15,16,17,18,19,20,21,22,23,24,25,26,27,28,29,30,31,32,33,34],
  [35,36,37,38,39,40,41,42,43,44,45,46,47,48,49,50,51,52,53,54,55,56,57],
  [58,59,60,61,62,63,64,65,66,67,68,69,70,71,72,73,74,75,76,77,78,79,80,81,82,83,84,85,86,87,88,89,90,91,92,93,94,95,96,97,98,99],
  [100,101,102,103,104,105,106,107,108,109,110],
  [111,112,113,114,115,116,30,19,131,132,126,127,128,129,130,133,119,120,121,122,134,123,135,124,125],
  [0,35,1,36,3,43,5,35,36,71,43,72,35,100,43,104,1,45,3,53],
  [-53,112,-54,97,-55,125,-56,98,-57,124,-58,123,-59,49,-60,66,-61,70,-62,121,-63,120,-64,99,-65,91,-66,119,-67,118,-68,117,-69,26,-70,25,-71,33,-72,13,-73,116,-74,115]
];

// ---- negative edge paths ----
const bacHFNegPaths = [[0,12,47,48,61,70,49,85,52,15,9,62],[13,2,53,54,8,61,31,62,63],[65,96,95,100,97,55,84,83,50,51],[3,47,21,27,129,57,110,140,133]];
const bacOSNegPaths = [[0,34,5,44,7,42,22,48,19,50],[9,38,15,39,16,40,17,41],[3,36,11,37,12,60,13,59],[21,45,23,47,27,52,28,51]];
const bacOMNegPaths = [[0,40,7,42,8,45,12,46,9,35,10,37],[1,41,4,43,16,44,28,47],[73,65,74,68,69,48,49,24],[5,39,11,38,6,36]];
const fungHFNegPaths = [[67,29,66,30,68,34,70,59,83,90,91],[64,12,65,13,66,14,67,55],[101,30,112,35,113,36,114]];
const fungOSNegPaths = [[0,37,2,38,3,39,4,40,21,41],[37,59,60,64,70,72,73],[46,99,47,100,48,101]];
const fungOMNegPaths = [[0,35,1,36,3,39,5,40,4,41],[43,71,72,73,100,101],[35,58,36,64,37,65]];

// ---- colours ----
const moduleColors = ['#1f4f9e', '#eeea4f', '#d9479b', '#b7b7b9'];
const bacColors = { Ac: '#8953a6', Pr: '#ece94f', At: '#2c5eab', Ot: '#b8b8ba', Ve: '#2ab3e7', Pl: '#f0823c', Ba: '#dc4a9c' };
const fungColors = { Bs: '#ea2e78', As: '#2e62af', Rz: '#67c3aa', Mo: '#f2ac39', Ot: '#b8b8ba', Gl: '#8dc540' };

const page = document.getElementById('page');

function addText(str, x, y, size, center) {
  const d = document.createElement('div');
  d.className = center ? 't c' : 't';
  d.textContent = str;
  d.style.left = x + 'px';
  d.style.top = y + 'px';
  if (size) d.style.fontSize = size + 'px';
  page.appendChild(d);
}
function addDot(color, x, y, size) {
  const d = document.createElement('div');
  d.className = 'dot';
  d.style.background = color;
  d.style.left = x + 'px';
  d.style.top = y + 'px';
  d.style.width = d.style.height = (size || 20) + 'px';
  page.appendChild(d);
}
function addLine(color, x1, x2, y) {
  const d = document.createElement('div');
  d.className = 'ln';
  d.style.background = color;
  d.style.left = x1 + 'px';
  d.style.width = (x2 - x1) + 'px';
  d.style.top = y + 'px';
  page.appendChild(d);
}

// ---- legend ----
addLine('#3aa646', 92, 166, 22); addText('Positive', 189, 22);
addLine('#e0322f', 336, 403, 22); addText('Negative', 421, 22);
addDot('#222', 584, 24, 8); addDot('#222', 607, 24, 13); addDot('#222', 636, 24, 19);
addText('Degree', 675, 24);
const moduleLegendX = [[829, 864], [1068, 1105], [1310, 1350], [1558, 1596]];
moduleNames.forEach((n, i) => { addDot(moduleColors[i], moduleLegendX[i][0], 22); addText(n, moduleLegendX[i][1], 22); });

const bacLegendPos = [[18, 54, 85], [300, 332, 85], [596, 630, 85], [886, 910, 85], [64, 101, 146], [418, 450, 146], [727, 762, 146]];
bacPhyla.forEach((n, i) => { const p = bacLegendPos[i]; addDot(bacColors[bacCodes[i]], p[0], p[2]); addText(n, p[1], p[2]); });
const fungLegendPos = [[1224, 1254, 86], [1526, 1558, 86], [1107, 1137, 147], [1413, 1442, 147], [1763, 1795, 147]];
fungPhyla.forEach((n, i) => { const p = fungLegendPos[i]; addDot(fungColors[fungCodes[i]], p[0], p[2]); addText(n, p[1], p[2]); });

// ---- panel headers and labels ----
addText(views[0], 338, 205, 33, true); addText(views[1], 711, 205, 33, true);
addText(views[0], 1348, 208, 33, true); addText(views[1], 1730, 208, 33, true);
const siteY = [391, 769, 1157];
sites.forEach((s, i) => addText(s, 109, siteY[i], 33, true));
const bacAvgPos = [[509, 592], [508, 961], [512, 1333]];
const fungAvgPos = [[1522, 598], [1533, 966], [1551, 1337]];
bacAvgDegree.forEach((v, i) => addText('Avg. degree: ' + v, bacAvgPos[i][0], bacAvgPos[i][1], 28, true));
fungAvgDegree.forEach((v, i) => addText('Avg. degree: ' + v, fungAvgPos[i][0], fungAvgPos[i][1], 28, true));

// ---- network panels ----
function nodeRadius(deg) { return 1.0 + deg * 0.38; }

function pathEdges(paths, sign) {
  const out = [];
  paths.forEach(p => { for (let k = 0; k < p.length - 1; k++) out.push([p[k], p[k + 1], sign]); });
  return out;
}

function edgeLayer(edges, nodes, leaves) {
  return {
    id: 'edges',
    beforeDatasetsDraw(chart) {
      const { ctx, scales } = chart;
      ctx.save();
      ctx.lineWidth = 0.7;
      edges.forEach(e => {
        const a = e[0] < 0 ? leaves[-e[0] - 1] : nodes[e[0]];
        const b = e[1] < 0 ? leaves[-e[1] - 1] : nodes[e[1]];
        if (!a || !b) return;
        const x1 = scales.x.getPixelForValue(a[0]), y1 = scales.y.getPixelForValue(a[1]);
        const x2 = scales.x.getPixelForValue(b[0]), y2 = scales.y.getPixelForValue(b[1]);
        const mx = (x1 + x2) / 2 - (y2 - y1) * 0.22, my = (y1 + y2) / 2 + (x2 - x1) * 0.22;
        ctx.strokeStyle = e[2] < 0 ? 'rgba(228,120,120,0.32)' : 'rgba(120,196,120,0.28)';
        ctx.beginPath();
        ctx.moveTo(x1, y1);
        ctx.quadraticCurveTo(mx, my, x2, y2);
        ctx.stroke();
      });
      ctx.restore();
    }
  };
}

function drawPanel(nodes, leaves, edges, colorOf, cx, cy, R) {
  const size = Math.round(R * 2.12);
  const cv = document.createElement('canvas');
  cv.width = size; cv.height = size;
  cv.style.width = size + 'px'; cv.style.height = size + 'px';
  cv.style.left = Math.round(cx - size / 2) + 'px';
  cv.style.top = Math.round(cy - size / 2) + 'px';
  page.appendChild(cv);
  new Chart(cv, {
    type: 'bubble',
    data: {
      datasets: [
        { data: leaves.map(p => ({ x: p[0], y: p[1], r: 1.1 })), backgroundColor: '#444', borderWidth: 0, order: 2 },
        { data: nodes.map(n => ({ x: n[0], y: n[1], r: nodeRadius(n[2]), c: colorOf(n) })),
          backgroundColor: c => (c.raw ? c.raw.c : '#000'), borderColor: '#2b2b2b', borderWidth: 0.8, order: 1 }
      ]
    },
    options: {
      responsive: false, animation: false, events: [],
      layout: { padding: 0 },
      scales: {
        x: { type: 'linear', min: -106, max: 106, display: false },
        y: { type: 'linear', min: -106, max: 106, reverse: true, display: false }
      },
      plugins: { legend: { display: false }, tooltip: { enabled: false } }
    },
    plugins: [edgeLayer(edges, nodes, leaves)]
  });
}

const byModule = n => moduleColors[n[3] - 1];
const byBacPhylum = n => bacColors[n[4]];
const byFungPhylum = n => fungColors[n[4]];

function network(core, minor, leaves, leaves2, edges, paths, negPaths) {
  return [core.concat(minor), leaves.concat(leaves2), edges.concat(pathEdges(paths, 1), pathEdges(negPaths, -1))];
}

const bacNets = [
  network(bacHF, bacHFMinor, bacHFLeaves, bacHFLeaves2, bacHFEdges, bacHFPaths, bacHFNegPaths),
  network(bacOS, bacOSMinor, bacOSLeaves, bacOSLeaves2, bacOSEdges, bacOSPaths, bacOSNegPaths),
  network(bacOM, bacOMMinor, bacOMLeaves, bacOMLeaves2, bacOMEdges, bacOMPaths, bacOMNegPaths)
];
const fungNets = [
  network(fungHF, fungHFMinor, fungHFLeaves, fungHFLeaves2, fungHFEdges, fungHFPaths, fungHFNegPaths),
  network(fungOS, fungOSMinor, fungOSLeaves, fungOSLeaves2, fungOSEdges, fungOSPaths, fungOSNegPaths),
  network(fungOM, fungOMMinor, fungOMLeaves, fungOMLeaves2, fungOMEdges, fungOMPaths, fungOMNegPaths)
];
const bacCentres = [[335, 712, 388], [338, 717, 782], [337, 721, 1150]];
const fungCentres = [[1350, 1727, 393], [1351, 1734, 782], [1354, 1738, 1157]];

bacNets.forEach((net, i) => {
  const c = bacCentres[i];
  drawPanel(net[0], net[1], net[2], byModule, c[0], c[2], 162);
  drawPanel(net[0], net[1], net[2], byBacPhylum, c[1], c[2], 162);
});
fungNets.forEach((net, i) => {
  const c = fungCentres[i];
  drawPanel(net[0], net[1], net[2], byModule, c[0], c[2], 155);
  drawPanel(net[0], net[1], net[2], byFungPhylum, c[1], c[2], 155);
});
</script>
</body>
</html>
